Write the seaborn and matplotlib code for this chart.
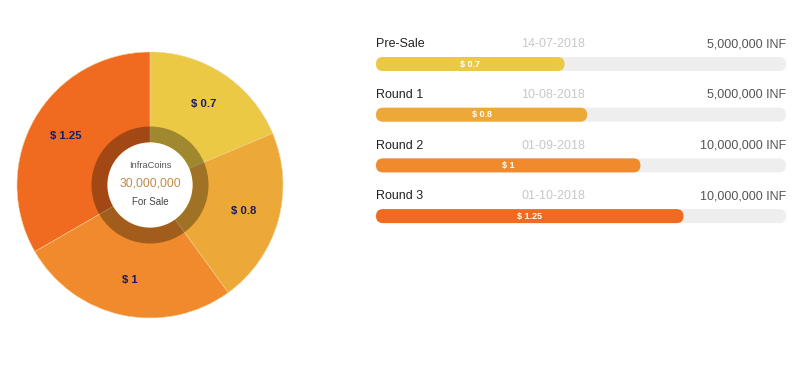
import matplotlib
matplotlib.use("Agg")
import matplotlib.pyplot as plt
import numpy as np
import pandas as pd
import seaborn as sns
from matplotlib.patches import Circle, FancyBboxPatch, Wedge

rounds = ["Pre-Sale", "Round 1", "Round 2", "Round 3"]
prices = [0.7, 0.8, 1.0, 1.25]
price_labels = ["$ 0.7", "$ 0.8", "$ 1", "$ 1.25"]
dates = ["14-07-2018", "10-08-2018", "01-09-2018", "01-10-2018"]
supply = ["5,000,000 INF", "5,000,000 INF", "10,000,000 INF", "10,000,000 INF"]
progress = [46, 51.5, 64.5, 75]
colors = ["#EBC944", "#ECA938", "#F08A2C", "#F06B20"]
total_supply = "30,000,000"

sns.set_style("white")
plt.rcParams["font.family"] = ["Liberation Sans", "DejaVu Sans"]

W, H = 800, 384
fig = plt.figure(figsize=(W / 100, H / 100), dpi=100)

# donut on the left
cx, cy, r = 150, 185, 133
ax_pie = fig.add_axes([(cx - r) / W, (H - cy - r) / H, 2 * r / W, 2 * r / H])
wedges, _ = ax_pie.pie(prices, colors=colors, startangle=90, counterclock=False,
                       wedgeprops=dict(edgecolor="#f3cf96", linewidth=0.4))
for w, lab in zip(wedges, price_labels):
    ang = np.deg2rad((w.theta1 + w.theta2) / 2)
    ax_pie.text(0.73 * np.cos(ang), 0.73 * np.sin(ang), lab, ha="center", va="center",
                fontsize=8.2, fontweight="bold", color="#1b1b5e")
ax_pie.add_patch(Wedge((0, 0), 0.44, 0, 360, width=0.12, facecolor="black", alpha=0.32, lw=0))
ax_pie.add_patch(Circle((0, 0), 0.32, facecolor="white", lw=0))
ax_pie.text(0, 0.15, "InfraCoins", ha="center", va="center", fontsize=6.7, color="#555555")
ax_pie.text(0, 0.01, total_supply, ha="center", va="center", fontsize=8.7, color="#c48a45")
ax_pie.text(0, -0.13, "For Sale", ha="center", va="center", fontsize=7, color="#444444")
ax_pie.set_xlim(-1, 1)
ax_pie.set_ylim(-1, 1)
ax_pie.set_aspect("equal")
ax_pie.axis("off")

# progress bars on the right
x0, x1 = 376, 786
row = 50.7
top = 64 - row / 2
ax = fig.add_axes([x0 / W, 1 - (top + 4 * row) / H, (x1 - x0) / W, 4 * row / H])
df = pd.DataFrame({"round": rounds, "track": [100] * 4, "progress": progress})
bar_h = 14 / row
sns.barplot(data=df, x="track", y="round", color="#eeeeee", width=bar_h, ax=ax, saturation=1)
sns.barplot(data=df, x="progress", y="round", hue="round", palette=colors, width=bar_h,
            ax=ax, saturation=1, legend=False)
ax.set_xlim(0, 100)
ax.set_ylim(3.5, -0.5)

px_x = 100 / (x1 - x0)
px_y = 1 / row
for p in list(ax.patches):
    bx, by, bw, bh = p.get_x(), p.get_y(), p.get_width(), p.get_height()
    fc = p.get_facecolor()
    p.remove()
    ax.add_patch(FancyBboxPatch((bx, by), bw, bh,
                                boxstyle=f"round,pad=0,rounding_size={7 * px_x}",
                                mutation_aspect=px_y / px_x, facecolor=fc, lw=0))

for i in range(len(rounds)):
    ax.text(0, i - 0.39, rounds[i], ha="left", va="center", fontsize=9, color="#222222")
    ax.text(43.2, i - 0.39, dates[i], ha="center", va="center", fontsize=9, color="#c8c8c8")
    ax.text(100, i - 0.39, supply[i], ha="right", va="center", fontsize=9, color="#555555")
    ax.text(progress[i] / 2, i, price_labels[i], ha="center", va="center", fontsize=6.5,
            fontweight="bold", color="white")
ax.axis("off")

fig.savefig("out.png", dpi=100)
